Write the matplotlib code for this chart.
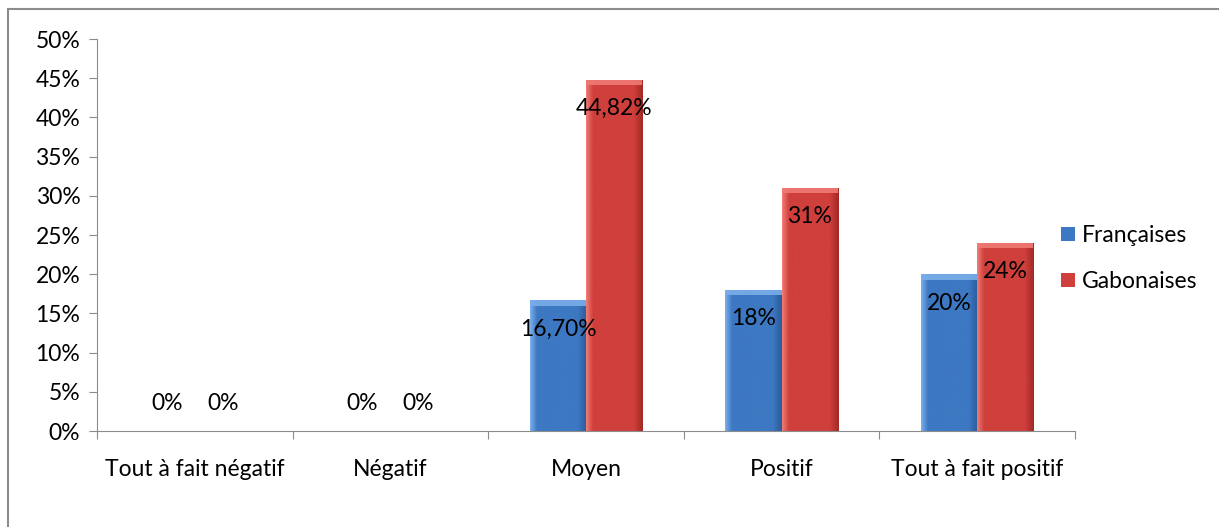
import numpy as np
import matplotlib.pyplot as plt
from matplotlib.colors import LinearSegmentedColormap
from matplotlib.patches import Rectangle

plt.rcParams['font.family'] = ['Lato', 'DejaVu Sans']

categories = ['Tout à fait négatif', 'Négatif', 'Moyen', 'Positif', 'Tout à fait positif']
francaises = [0, 0, 16.70, 18, 20]
gabonaises = [0, 0, 44.82, 31, 24]
labels_fr = ['0%', '0%', '16,70%', '18%', '20%']
labels_ga = ['0%', '0%', '44,82%', '31%', '24%']
yticks = np.arange(0, 55, 5)

fs = 16.5

fig = plt.figure(figsize=(12.19, 5.27), dpi=100)
fig.patches.append(Rectangle((8 / 1219, -0.1), 1.2, 1.1 - 9 / 527, transform=fig.transFigure,
                             fill=False, edgecolor='#8c8c8c', linewidth=1.5))
ax = fig.add_axes([97 / 1219, 1 - 431 / 527, (1075 - 97) / 1219, (431 - 39) / 527])

x = np.arange(len(categories))
w = 0.287


def shaded_bars(xs, vals, base, light, dark, label):
    bars = ax.bar(xs, vals, w, color=base, edgecolor='none', label=label)
    cmap = LinearSegmentedColormap.from_list(
        'g', [(0, light), (0.12, base), (0.85, base), (1, dark)])
    grad = np.linspace(0, 1, 64).reshape(1, -1)
    for b in bars:
        if b.get_height() <= 0:
            continue
        x0, y0 = b.get_x(), b.get_y()
        im = ax.imshow(grad, cmap=cmap, aspect='auto', zorder=2,
                       extent=[x0, x0 + b.get_width(), y0, y0 + b.get_height()])
        im.set_clip_path(b)
        # bevel highlight at the top
        ax.add_patch(Rectangle((x0, y0 + b.get_height() - 0.7), b.get_width(), 0.7,
                               color=light, alpha=0.9, zorder=3, linewidth=0))
    return bars


shaded_bars(x - w / 2, francaises, '#3d78c2', '#7aaeea', '#2b5b9a', 'Françaises')
shaded_bars(x + w / 2, gabonaises, '#cf3f3b', '#f07a74', '#a02a26', 'Gabonaises')

for i in range(len(categories)):
    for xs, v, t in ((x[i] - w / 2, francaises[i], labels_fr[i]),
                     (x[i] + w / 2, gabonaises[i], labels_ga[i])):
        yy = v - 3.7 if v > 0 else 3.5
        ax.text(xs, yy, t, ha='center', va='center', fontsize=fs, zorder=5)

ax.set_ylim(0, 50)
ax.set_yticks(yticks)
ax.set_yticklabels([f'{t}%' for t in yticks], fontsize=fs)
ax.set_xticks(np.arange(-0.5, len(categories), 1))
ax.set_xticklabels([])
ax.set_xticks(x, minor=True)
ax.set_xticklabels(categories, minor=True, fontsize=fs)
ax.tick_params(axis='x', which='minor', length=0, pad=20)
ax.tick_params(axis='x', which='major', length=6, direction='out', color='#8c8c8c')
ax.tick_params(axis='y', length=6, color='#8c8c8c', pad=6)
ax.set_xlim(-0.5, len(categories) - 0.5)
for s in ['top', 'right']:
    ax.spines[s].set_visible(False)
for s in ['left', 'bottom']:
    ax.spines[s].set_color('#8c8c8c')

ax.legend(loc='center left', bbox_to_anchor=(0.965, 0.44), frameon=False, fontsize=fs,
          handlelength=0.6, handleheight=0.6, labelspacing=1.1, handletextpad=0.3)

fig.savefig('out.png', dpi=100)
